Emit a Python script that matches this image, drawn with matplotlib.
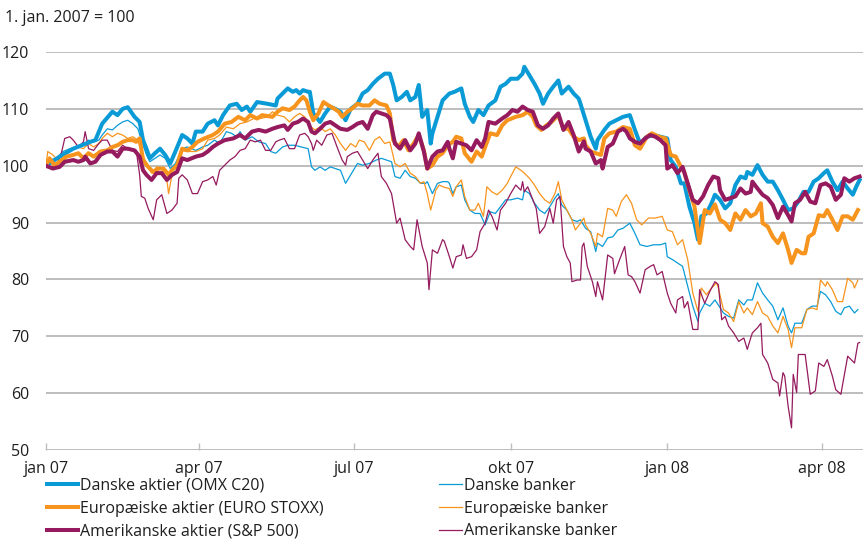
import numpy as np
import pandas as pd
import matplotlib
matplotlib.use("Agg")
import matplotlib.pyplot as plt
import matplotlib.dates as mdates

# Indeks, 1. jan. 2007 = 100. Dage efter 1. jan. 2007 og indeksværdi
start = pd.Timestamp("2007-01-01")

dk_akt_d = [0, 8, 16, 26, 29, 33, 39, 42, 45, 48, 52, 55, 57, 59, 61, 64, 67, 70, 73, 76, 80, 83, 86, 88, 92, 95,
            99, 101, 104, 108, 112, 115, 118, 120, 124, 130, 135, 136, 139, 142, 145, 147, 149, 151, 154, 155, 157,
            161, 164, 167, 170, 173, 176, 179, 183, 186, 189, 192, 195, 199, 202, 204, 206, 209, 212, 214, 217, 219,
            221, 224, 226, 227, 230, 233, 237, 240, 244, 246, 249, 251, 254, 257, 260, 264, 267, 270, 273, 277, 280,
            281, 284, 287, 290, 292, 295, 298, 301, 303, 307, 310, 313, 314, 317, 320, 323, 324, 328, 331, 335, 339,
            343, 346, 349, 353, 357, 361, 365, 367, 370, 373, 375, 378, 381, 383, 385, 388, 391, 393, 396, 399, 402,
            405, 408, 411, 412, 415, 418, 421, 424, 427, 430, 433, 436, 439, 442, 445, 448, 451, 454, 457, 459, 462,
            465, 468, 471, 474, 476, 478]
dk_akt_v = [100, 101.6, 103, 104.2, 104.5, 107.4, 109.5, 108.9, 110, 110.3, 108.6, 107.7, 104.5, 103, 101.3, 102.2,
            103, 101.9, 100.4, 102.5, 105.4, 104.8, 103.9, 106, 106, 107.4, 108, 107.1, 108.9, 110.6, 110.9, 109.8,
            110.4, 109.5, 111.2, 110.9, 110.6, 111.8, 112.7, 113.6, 113, 113.3, 112.7, 113.3, 113, 113, 109.2, 107.7,
            109.2, 110.4, 110, 109.5, 108, 110, 110.9, 112.7, 113.3, 114.4, 115.3, 116.2, 116.2, 114.2, 111.5, 112.1,
            113, 111.5, 112.1, 114.2, 108.6, 109.8, 103.9, 105.7, 108.6, 111.5, 112.7, 113, 113.6, 110.9, 108.6,
            107.7, 109.8, 108.9, 110.6, 111.5, 113.9, 114.4, 115.3, 115.3, 116.2, 117.4, 115.9, 114.4, 112.7, 110.9,
            112.7, 113.9, 115, 112.7, 113.9, 112.7, 111.8, 110.9, 108, 105.1, 103, 104.5, 106.3, 107.4, 108, 108.6,
            108.9, 106.3, 103.9, 105.1, 105.4, 105.1, 104.8, 101, 99.8, 96.9, 96.9, 92.8, 89.9, 87, 91.1, 91.6, 93.4,
            94.9, 94, 92.5, 93.4, 96.6, 98.1, 97.8, 98.9, 98.4, 100.1, 98.4, 97.2, 97.2, 95.7, 94, 92.2, 92.5, 93.7,
            95.4, 95.4, 97.2, 97.8, 98.7, 99.2, 97.2, 95.7, 97.2, 96, 94.9, 96.3, 97.5]

eu_akt_d = [0, 2, 5, 8, 12, 16, 19, 22, 25, 28, 32, 36, 39, 42, 45, 48, 51, 53, 55, 57, 60, 63, 66, 69, 72, 74, 77,
            80, 83, 86, 89, 93, 98, 101, 105, 109, 113, 117, 120, 124, 127, 133, 136, 139, 143, 146, 149, 151, 153,
            155, 157, 160, 163, 166, 169, 172, 174, 177, 180, 183, 186, 190, 193, 196, 200, 202, 204, 207, 210, 213,
            216, 219, 222, 224, 227, 230, 233, 236, 239, 241, 244, 246, 250, 253, 256, 258, 261, 265, 268, 271, 276,
            280, 283, 286, 288, 291, 294, 297, 301, 304, 307, 310, 313, 316, 317, 320, 323, 326, 328, 331, 335, 339,
            343, 346, 349, 353, 356, 360, 364, 367, 370, 373, 375, 378, 381, 384, 387, 390, 393, 396, 399, 402, 405,
            408, 411, 414, 417, 420, 421, 424, 427, 430, 433, 436, 438, 441, 444, 446, 448, 451, 454, 457, 459, 462,
            465, 468, 471, 474, 477]
eu_akt_v = [100, 101.3, 100.1, 100.7, 101.6, 101.9, 102.2, 101.3, 102.2, 101.6, 102.5, 102.7, 103.3, 103.6, 104.2,
            104.5, 104.5, 104.2, 104.8, 101, 99.8, 98.9, 99.5, 99.5, 98.4, 99.2, 100.1, 103, 102.7, 103.3, 104.2,
            104.8, 105.4, 106, 107.4, 107.7, 108.6, 108, 108.9, 108.3, 108.9, 108.6, 109.5, 110.1, 109.8, 110.4,
            111.5, 112.1, 111.5, 109.5, 108, 109.2, 111.2, 110.6, 110.1, 109.5, 108.6, 109.5, 110.1, 110.9, 110.6,
            110.6, 111.5, 110.9, 110.6, 109.2, 104.5, 103.3, 104.5, 102.7, 103.9, 105.4, 102.7, 99.5, 100.1, 101.6,
            102.2, 103.6, 104.2, 105.1, 104.8, 102.2, 100.7, 102.5, 101.6, 103.3, 105.7, 105.4, 107.1, 108, 108.6,
            108.9, 109.5, 108.6, 107.1, 106.3, 107.1, 107.7, 108.9, 106.5, 106.5, 105.1, 104.5, 104.8, 103.6, 102.5,
            102.2, 101.9, 104.8, 105.7, 106, 106.8, 106.5, 103.6, 103, 105.1, 105.7, 105.1, 104.8, 101.9, 101.6, 99.8,
            98.9, 95.7, 92.8, 86.4, 92.2, 91.6, 93.2, 90.5, 89.9, 88.7, 91.6, 90.5, 92.2, 91.1, 91.6, 93.4, 89.9,
            89.3, 87.5, 86.4, 88.1, 85.2, 82.9, 85.2, 84.6, 84.6, 87.5, 88.1, 91.3, 91.1, 92.2, 90.5, 88.7, 91.1,
            91.1, 90.5, 92.2]

us_akt_d = [0, 4, 8, 11, 16, 19, 22, 23, 26, 29, 32, 36, 39, 42, 45, 48, 52, 55, 57, 59, 62, 65, 68, 71, 74, 77, 80,
            83, 88, 92, 95, 98, 101, 105, 110, 114, 117, 121, 125, 129, 133, 136, 140, 142, 145, 148, 151, 154, 156,
            158, 161, 164, 167, 170, 173, 177, 180, 183, 186, 189, 192, 194, 197, 200, 202, 205, 208, 211, 214, 217,
            219, 222, 224, 227, 230, 233, 236, 237, 239, 241, 244, 247, 250, 253, 256, 258, 260, 264, 268, 271, 274,
            277, 280, 283, 286, 289, 292, 295, 298, 301, 304, 307, 310, 313, 316, 317, 320, 323, 326, 327, 330, 333,
            336, 339, 341, 343, 346, 349, 352, 355, 358, 361, 364, 365, 368, 371, 374, 377, 380, 383, 386, 389, 392,
            395, 396, 399, 402, 405, 408, 411, 414, 415, 418, 421, 424, 427, 430, 433, 436, 438, 440, 443, 446, 449,
            452, 455, 458, 461, 464, 467, 469, 472, 475, 478]
us_akt_v = [100, 99.5, 99.8, 100.7, 101, 100.7, 101, 101.6, 100.4, 100.7, 101.9, 102.5, 102.5, 101.6, 103, 103, 102.7,
            101.6, 99.2, 98.4, 97.5, 98.7, 98.7, 97.5, 98.4, 98.9, 101.3, 101, 101.6, 101.9, 102.5, 103.3, 103.9,
            104.5, 104.8, 105.4, 104.8, 106, 106.3, 106, 106.5, 106.8, 107.1, 106.3, 107.4, 107.7, 108.3, 107.7, 106,
            105.7, 106.5, 107.4, 107.7, 107.1, 106.5, 106.3, 106.8, 107.4, 107.7, 106.5, 108.9, 109.5, 109.2, 108.9,
            108.3, 103.9, 103, 104.5, 102.7, 103.9, 105.7, 102.5, 99.5, 101.6, 102.5, 102.7, 104.2, 103, 101.3, 104.2,
            103.9, 103.6, 102.7, 104.5, 103.3, 104.8, 107.7, 107.4, 108.3, 108.9, 109.8, 109.5, 110.4, 109.8, 109.5,
            107.1, 106.5, 107.1, 108.3, 109.2, 106.3, 107.7, 105.4, 102.5, 104.3, 103, 102.5, 100.4, 101, 99.5, 103.3,
            103.9, 106, 106.5, 106, 104.8, 104.2, 103.9, 104.8, 105.4, 105.1, 104.5, 103.6, 99.5, 100.1, 98.7, 99.8,
            96.9, 94, 93.4, 94.6, 96.6, 98.1, 97.8, 95.7, 94, 94.3, 94.6, 96, 95.1, 95.4, 97.2, 96, 94.9, 94.3, 93.1,
            90.8, 92.8, 91.3, 90.2, 93.4, 94, 95.4, 93.7, 93.4, 96.6, 96.9, 96.3, 94, 94.9, 97.8, 97.2, 97.8, 98.1]

dk_bank_d = [0, 2, 6, 10, 14, 18, 22, 25, 28, 31, 33, 36, 39, 42, 45, 48, 51, 54, 56, 59, 61, 64, 67, 70, 73, 76, 80,
             83, 88, 92, 95, 99, 102, 106, 109, 112, 114, 117, 121, 125, 129, 132, 135, 139, 142, 146, 150, 154, 156,
             158, 161, 164, 167, 170, 173, 176, 179, 183, 186, 190, 194, 197, 200, 203, 205, 208, 211, 214, 217, 220,
             223, 224, 227, 230, 233, 236, 237, 239, 241, 244, 246, 249, 252, 255, 258, 261, 264, 267, 270, 273, 277,
             280, 281, 284, 287, 290, 293, 296, 299, 301, 303, 306, 309, 312, 314, 317, 320, 323, 324, 327, 330, 333,
             336, 339, 343, 346, 349, 353, 357, 361, 364, 365, 368, 371, 374, 377, 380, 383, 384, 387, 390, 393, 395,
             398, 401, 404, 407, 410, 412, 415, 418, 421, 424, 427, 430, 433, 436, 438, 440, 444, 447, 450, 453, 455,
             458, 461, 464, 467, 469, 472, 475, 477]
dk_bank_v = [100, 101, 101.3, 102.5, 103, 103.3, 103.6, 104.5, 104.2, 104.5, 105.4, 106.5, 106.3, 107.1, 107.7, 108,
             107.4, 106.5, 104.5, 101.9, 100.7, 101.3, 101.9, 101.3, 99.5, 100.4, 103, 103.3, 102.7, 103.3, 103.6,
             104.5, 103.9, 106, 105.7, 105.1, 106, 104.5, 105.1, 104.2, 103.9, 102.5, 102.2, 103.3, 103.6, 103.6,
             103.3, 103, 99.8, 99.2, 99.8, 99.2, 99.8, 99.5, 99.2, 96.9, 98.4, 100.4, 100.1, 100.4, 101, 101.3, 101,
             100.7, 98.1, 97.8, 99.2, 98.1, 97.8, 96.9, 96.9, 97.2, 95.1, 96.9, 97.2, 97.2, 96.9, 95.1, 96.3, 96.6, 94,
             92.2, 91.6, 91.6, 89.6, 91.9, 91.6, 92.8, 94, 94, 94.3, 94, 95.7, 95.1, 93.4, 92.2, 91.6, 92.8, 94.3,
             95.1, 93.1, 92.2, 90.5, 90.2, 90.5, 89, 88.4, 84.9, 86.4, 85.8, 87.3, 87.5, 88.7, 89, 89.9, 88.1, 86.1,
             85.8, 86.1, 86.1, 86.4, 84, 83.5, 82.9, 82.3, 78.8, 75.3, 72.6, 74.1, 75.8, 75.3, 76.4, 75.5, 74.1, 73.5,
             73.2, 76.4, 75.5, 76.4, 76.4, 79.4, 77.6, 76.4, 75.3, 72.9, 75, 71.8, 70.6, 72.3, 72.3, 74.7, 75.3, 75.3,
             77.9, 77.3, 76.1, 74.4, 73.8, 75, 75.3, 74.1, 74.7]

eu_bank_d = [0, 1, 4, 7, 10, 13, 16, 19, 22, 25, 28, 31, 33, 36, 39, 42, 45, 48, 51, 54, 56, 59, 62, 65, 68, 71, 72,
             74, 77, 80, 83, 88, 92, 95, 99, 102, 106, 110, 114, 118, 122, 126, 130, 133, 136, 140, 143, 146, 149, 152,
             155, 158, 161, 164, 167, 170, 173, 176, 179, 182, 184, 187, 190, 193, 196, 199, 202, 205, 208, 211, 214,
             217, 220, 222, 224, 226, 229, 231, 234, 237, 239, 241, 244, 246, 249, 252, 254, 257, 259, 262, 265, 268,
             271, 273, 276, 279, 281, 284, 287, 290, 293, 296, 299, 301, 303, 306, 309, 311, 314, 316, 317, 320, 323,
             324, 327, 330, 333, 335, 338, 341, 344, 347, 350, 354, 358, 362, 365, 368, 371, 374, 377, 380, 383, 385,
             388, 391, 394, 395, 398, 401, 404, 407, 410, 412, 415, 418, 421, 424, 427, 430, 433, 436, 438, 440, 444,
             447, 450, 453, 455, 458, 459, 462, 465, 468, 471, 474, 475, 477]
eu_bank_v = [100, 102.5, 101.9, 101, 101.9, 102.7, 103, 103.3, 103, 103.9, 103.3, 103.9, 104.8, 105.7, 105.1, 105.7,
             105.4, 104.8, 105.1, 104.5, 102.5, 100.4, 98.7, 99.8, 99.5, 97.5, 95.1, 98.4, 99.2, 102.7, 102.5, 102.5,
             103, 104.5, 104.8, 105.4, 106.8, 106.5, 107.4, 107.7, 108.3, 108.3, 108.6, 109.5, 108.9, 108.6, 107.7,
             108.6, 109.2, 108.6, 107, 106.3, 106.8, 106, 106.5, 105.4, 103.9, 102.7, 103.9, 103.3, 104.5, 104.2,
             102.7, 104.5, 105.1, 103.9, 104.2, 100.4, 99.8, 100.4, 98.7, 98.1, 96.9, 97.2, 95.1, 92.2, 95.7, 96.6,
             96.2, 96, 94.6, 96.3, 97.5, 94.6, 92.2, 92.2, 93.4, 91.1, 96.3, 95.4, 94.9, 95.7, 96.9, 98.1, 99.8, 99.2,
             98.7, 97.8, 96.6, 95.1, 94, 93.4, 95.1, 97.2, 94, 92.2, 90.5, 88.7, 89.9, 90.8, 89.6, 88.1, 85.8, 88.1,
             87.5, 92.5, 92.2, 91.1, 93.7, 94.9, 93.4, 90.5, 89.6, 90.8, 90.8, 91.1, 88.7, 88.4, 86.1, 87, 83.5, 77.6,
             74.4, 78.5, 77.3, 78.5, 79.4, 78.5, 74.7, 74.1, 72.6, 76.1, 74.1, 75, 73.8, 76.1, 74.1, 73.5, 71.8, 70.6,
             73.5, 71.2, 68, 71.5, 71.5, 74.7, 75, 74.7, 79.9, 78.8, 79.6, 78.2, 76.1, 76.1, 80.2, 79.4, 78.5, 79.9]

us_bank_d = [0, 2, 6, 9, 11, 14, 16, 19, 22, 23, 25, 28, 31, 33, 36, 39, 42, 45, 48, 51, 53, 55, 56, 58, 60, 63, 65,
             68, 71, 74, 77, 78, 80, 83, 86, 89, 92, 95, 98, 100, 102, 105, 108, 111, 114, 117, 120, 123, 126, 129,
             132, 135, 137, 140, 143, 146, 149, 152, 154, 156, 157, 159, 162, 165, 168, 171, 174, 176, 177, 180, 183,
             186, 189, 192, 195, 197, 200, 203, 206, 208, 211, 214, 216, 218, 221, 224, 225, 227, 230, 233, 234, 237,
             239, 241, 244, 245, 247, 250, 253, 255, 258, 260, 262, 265, 267, 270, 273, 276, 279, 280, 281, 283, 286,
             288, 290, 293, 296, 298, 300, 302, 304, 306, 308, 309, 312, 314, 315, 316, 318, 321, 323, 324, 327, 330,
             333, 334, 337, 340, 342, 344, 346, 349, 352, 355, 357, 359, 362, 365, 367, 370, 371, 374, 375, 377, 380,
             383, 384, 387, 390, 393, 395, 397, 399, 401, 404, 407, 410, 412, 414, 415, 418, 420, 421, 424, 427, 430,
             431, 433, 434, 436, 438, 439, 441, 442, 446, 449, 452, 454, 457, 459, 462, 464, 467, 471, 474, 475, 477,
             478]
us_bank_v = [100, 99.8, 99.8, 102.2, 104.8, 105.1, 104.5, 103.3, 104.2, 106, 103, 102.7, 103.9, 104.5, 104.5, 102.7,
             102.5, 103.6, 103, 102.7, 102.7, 98.4, 94.6, 94.3, 92.5, 90.5, 94, 94.9, 91.6, 92.2, 93.4, 97.8, 98.4,
             97.5, 95.1, 95.1, 97.2, 97.5, 98.1, 96.6, 99.2, 100.1, 101, 101.6, 102.7, 103, 104.5, 104.2, 104.5, 102.7,
             102.7, 104.2, 104.5, 104.8, 103, 103, 105.4, 105.7, 105.1, 103.9, 102.7, 104.5, 103.6, 105.4, 105.7,
             103.3, 101, 100.1, 101.6, 102.2, 102.5, 101, 99.5, 101, 102.2, 98.1, 96.9, 95.1, 89.9, 90.8, 87, 85.8,
             85.2, 90.5, 85.8, 82.9, 78.2, 85.2, 84.6, 87, 86.7, 84, 82, 84, 84.3, 86.1, 83.7, 84, 85.2, 88.4, 89.9,
             92.2, 91.1, 88.7, 92.2, 93.4, 95.1, 96.6, 95.7, 97.2, 95.4, 96.3, 94, 92.5, 88.1, 89.3, 92.5, 89.9, 94,
             94.6, 85.8, 84, 82.9, 79.6, 79.9, 79.9, 85.8, 86.4, 82.3, 79.6, 77, 79.6, 76.4, 84.3, 83.7, 81, 83.5, 85.8,
             80.8, 80.5, 79.6, 77.6, 81.7, 82.3, 82.6, 80.8, 81.4, 77.6, 75.8, 74.1, 76.4, 77, 75, 76.1, 71.2, 71.2,
             78.2, 75.8, 77.9, 79.6, 79.1, 72.9, 73.5, 71.8, 70.6, 69.1, 69.7, 67.7, 69.7, 70.6, 71.5, 72.3, 66.8,
             65.3, 62.4, 61.8, 59.5, 63.6, 63, 57.7, 53.9, 63.3, 60.1, 66.8, 66.8, 59.8, 60.4, 65.3, 64.7, 65.9, 63,
             60.6, 59.8, 66.5, 65.6, 65.3, 68.8, 68.9]

labels_akt = ["Danske aktier (OMX C20)", "Europæiske aktier (EURO STOXX)", "Amerikanske aktier (S&P 500)"]
labels_bank = ["Danske banker", "Europæiske banker", "Amerikanske banker"]
tick_dates = ["2007-01-01", "2007-04-01", "2007-07-01", "2007-10-01", "2008-01-01", "2008-04-01"]
tick_labels = ["jan 07", "apr 07", "jul 07", "okt 07", "jan 08", "apr 08"]
y_ticks = [50, 60, 70, 80, 90, 100, 110, 120]

blue = "#0A9BD7"
orange = "#F7941D"
purple = "#951A5E"
txt = "#1E1E1E"


def to_dates(days):
    return start + pd.to_timedelta(days, unit="D")


plt.rcParams["font.family"] = ["Open Sans", "DejaVu Sans"]

fig = plt.figure(figsize=(8.65, 5.57), dpi=100)
ax = fig.add_axes([0.0532, 0.1921, 0.9445, 0.7145])

thin = [(dk_bank_d, dk_bank_v, blue), (eu_bank_d, eu_bank_v, orange), (us_bank_d, us_bank_v, purple)]
thick = [(dk_akt_d, dk_akt_v, blue), (eu_akt_d, eu_akt_v, orange), (us_akt_d, us_akt_v, purple)]

h_akt, h_bank = [], []
for d, v, c in thick:
    h, = ax.plot(to_dates(d), v, color=c, lw=2.9, solid_joinstyle="round", zorder=3)
    h_akt.append(h)
for d, v, c in thin:
    h, = ax.plot(to_dates(d), v, color=c, lw=0.9, zorder=2)
    h_bank.append(h)

ax.set_ylim(50, 120)
ax.set_xlim(start, pd.Timestamp("2008-04-25"))
ax.set_yticks(y_ticks)
ax.set_xticks(pd.to_datetime(tick_dates))
ax.set_xticklabels(tick_labels)
ax.grid(axis="y", color="#BDBDBD", lw=1.4)
ax.set_axisbelow(True)
for s in ax.spines.values():
    s.set_visible(False)
ax.tick_params(axis="y", length=0, pad=12, labelsize=11.5, labelcolor=txt)
ax.tick_params(axis="x", direction="in", length=5, width=1, color="#BDBDBD", pad=8,
               labelsize=11.5, labelcolor=txt)

fig.text(0.006, 1 - 18 / 557, "1. jan. 2007 = 100", fontsize=11.5, color=txt, va="center")

leg_kw = dict(loc="upper left", frameon=False, fontsize=11.5, handletextpad=0.12,
              labelspacing=0.42, borderaxespad=0, borderpad=0, labelcolor=txt)
fig.legend(h_akt, labels_akt, bbox_to_anchor=(0.054, 1 - 478 / 557), handlelength=1.95, **leg_kw)
fig.legend(h_bank, labels_bank, bbox_to_anchor=(0.507, 1 - 478 / 557), handlelength=1.45, **leg_kw)

plt.savefig("out.png", dpi=100)
